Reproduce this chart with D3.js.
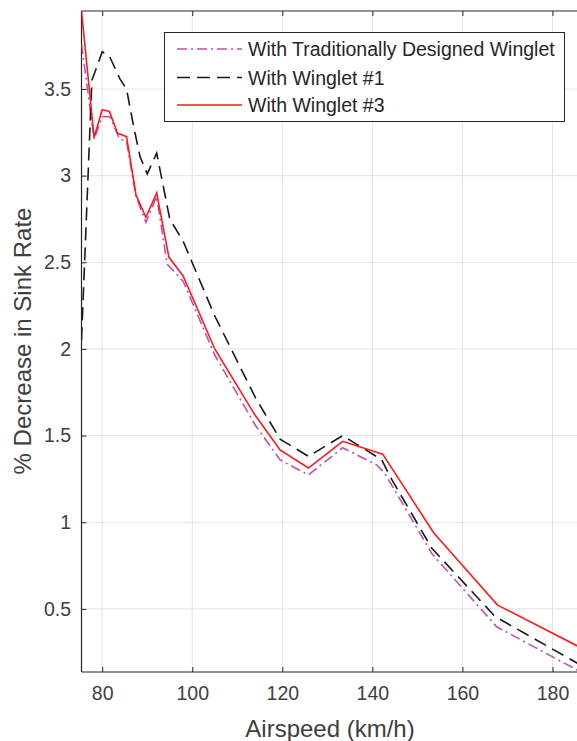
<!DOCTYPE html>
<html>
<head>
<meta charset="utf-8">
<script src="https://cdn.jsdelivr.net/npm/d3@7"></script>
<style>
body{margin:0;background:#fff}
svg text{font-family:"Liberation Sans",Arial,sans-serif}
</style>
</head>
<body>
<div id="chart"></div>
<script>
// values
var speedTrad = [75.4, 78.2, 80, 81.7, 83.9, 85.4, 87.5, 89.7, 92.1, 94.4, 98, 105, 114, 119.5, 125.8, 133.4, 141, 142.8, 153.2, 167.6, 186]
var sinkTrad = [3.76, 3.21, 3.34, 3.34, 3.21, 3.20, 2.88, 2.73, 2.88, 2.49, 2.39, 1.965, 1.56, 1.36, 1.273, 1.43, 1.33, 1.28, 0.82, 0.397, 0.14]

var speedW1 = [75.4, 77.7, 78.7, 80, 81.6, 83.9, 85.4, 87.0, 88.4, 90.0, 92.1, 95, 98, 105, 114, 119.5, 125.8, 133.4, 142.1, 144, 153.2, 167.3, 186]
var sinkW1 = [2.05, 3.55, 3.62, 3.715, 3.69, 3.56, 3.50, 3.28, 3.11, 3.01, 3.13, 2.75, 2.62, 2.19, 1.72, 1.48, 1.38, 1.50, 1.36, 1.26, 0.85, 0.455, 0.18]

var speedW3 = [75.4, 78.2, 80, 81.6, 83.4, 85.4, 87.5, 89.7, 92.1, 94.8, 98, 105, 113.9, 119.5, 125.8, 133.4, 142.3, 153.6, 167.8, 186]
var sinkW3 = [3.95, 3.22, 3.38, 3.37, 3.245, 3.225, 2.89, 2.76, 2.90, 2.53, 2.42, 2.00, 1.62, 1.417, 1.313, 1.467, 1.393, 0.94, 0.522, 0.28]

var seriesNames = ["With Traditionally Designed Winglet", "With Winglet #1", "With Winglet #3"]
var xTicks = [80, 100, 120, 140, 160, 180]
var yTicks = [0.5, 1, 1.5, 2, 2.5, 3, 3.5]

var width = 577
var height = 741
// note: "top" is a reserved window property, so plot edges get their own names
var plotLeft = 81.5, plotRight = 579.5, plotTop = 11, plotBottom = 672
var axisColor = "#262626"
var labelColor = "#404040"

var svg = d3.select("#chart").append("svg").attr("width",width).attr("height",height)

var xScale = d3.scaleLinear().domain([75.4,186]).range([plotLeft,plotRight])
var yScale = d3.scaleLinear().domain([0.136,3.95]).range([plotBottom,plotTop])

// grid
svg.selectAll(".xgrid")
    .data(xTicks)
    .enter()
    .append("line")
    .attr("x1",function(d){return xScale(d)})
    .attr("x2",function(d){return xScale(d)})
    .attr("y1",plotTop).attr("y2",plotBottom)
    .attr("stroke","#e3e3e3").attr("stroke-width",1)
svg.selectAll(".ygrid")
    .data(yTicks)
    .enter()
    .append("line")
    .attr("y1",function(d){return yScale(d)})
    .attr("y2",function(d){return yScale(d)})
    .attr("x1",plotLeft).attr("x2",width)
    .attr("stroke","#e3e3e3").attr("stroke-width",1)

// axes
var xAxis = d3.axisBottom(xScale).tickValues(xTicks).tickSize(-5).tickPadding(14)
var gx = svg.append("g").attr("transform","translate(0,"+plotBottom+")").call(xAxis)
var xTop = d3.axisTop(xScale).tickValues(xTicks).tickSize(-5).tickFormat("")
var gxt = svg.append("g").attr("transform","translate(0,"+plotTop+")").call(xTop)
var yAxis = d3.axisLeft(yScale).tickValues(yTicks).tickSize(-5).tickPadding(10.5)
    .tickFormat(function(d){return String(d)})
var gy = svg.append("g").attr("transform","translate("+plotLeft+",0)").call(yAxis)

;[gx,gxt,gy].forEach(function(g){
    g.select(".domain").remove()
    g.selectAll(".tick line").attr("stroke",axisColor)
    g.selectAll(".tick text").attr("fill",labelColor).attr("font-size",19.5)
})
// box lines (top, left, bottom)
svg.append("line").attr("x1",plotLeft).attr("x2",width).attr("y1",plotBottom).attr("y2",plotBottom).attr("stroke",axisColor).attr("stroke-width",1.2)
svg.append("line").attr("x1",plotLeft).attr("x2",width).attr("y1",plotTop).attr("y2",plotTop).attr("stroke",axisColor).attr("stroke-width",1.2)
svg.append("line").attr("x1",plotLeft).attr("x2",plotLeft).attr("y1",plotTop).attr("y2",plotBottom).attr("stroke",axisColor).attr("stroke-width",1.2)

svg.append("text").text("Airspeed (km/h)")
    .attr("x",330).attr("y",737)
    .attr("text-anchor","middle").attr("font-size",24).attr("fill",labelColor)
svg.append("text").text("% Decrease in Sink Rate")
    .attr("transform","translate(31,341) rotate(-90)")
    .attr("text-anchor","middle").attr("font-size",24).attr("fill",labelColor)

// lines
svg.append("clipPath").attr("id","plotClip")
    .append("rect").attr("x",plotLeft).attr("y",plotTop).attr("width",plotRight-plotLeft).attr("height",plotBottom-plotTop)

var styles = [
    {color:"#c24fb3", dash:"10,4,2,4"},
    {color:"#1a1a1a", dash:"13,7"},
    {color:"#ff1a1a", dash:null}
]
var seriesData = [
    d3.zip(speedTrad,sinkTrad),
    d3.zip(speedW1,sinkW1),
    d3.zip(speedW3,sinkW3)
]
var line = d3.line()
    .x(function(d){return xScale(d[0])})
    .y(function(d){return yScale(d[1])})

var plot = svg.append("g").attr("clip-path","url(#plotClip)")
plot.selectAll(".series")
    .data(seriesData)
    .enter()
    .append("path")
    .attr("class","series")
    .attr("d",line)
    .attr("fill","none")
    .attr("stroke",function(d,i){return styles[i].color})
    .attr("stroke-width",1.6)
    .attr("stroke-dasharray",function(d,i){return styles[i].dash})

// legend
var legend = svg.append("g")
legend.append("rect")
    .attr("x",164.5).attr("y",32.5).attr("width",400).attr("height",89)
    .attr("fill","#fff").attr("stroke",axisColor).attr("stroke-width",1)
var rowY = [49, 77.5, 105]
seriesNames.forEach(function(name,i){
    legend.append("line")
        .attr("x1",177).attr("x2",242)
        .attr("y1",rowY[i]).attr("y2",rowY[i])
        .attr("stroke",styles[i].color).attr("stroke-width",1.6)
        .attr("stroke-dasharray",styles[i].dash)
    legend.append("text").text(name)
        .attr("x",248).attr("y",rowY[i]+7)
        .attr("font-size",19.5).attr("fill","#262626")
})
</script>
</body>
</html>
